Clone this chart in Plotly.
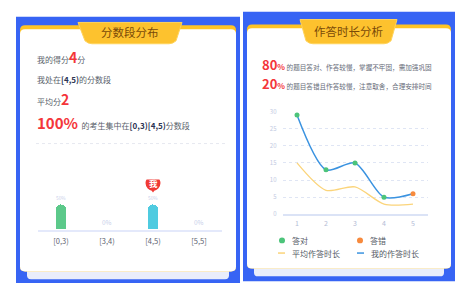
import plotly.graph_objects as go

# ---------------- data ----------------
score_bins = ["[0,3)", "[3,4)", "[4,5)", "[5,5]"]
bin_pct = [50, 0, 50, 0]
bin_colors = ["#5cc98a", "#5cc98a", "#4fcbe0", "#4fcbe0"]
my_score = 4
my_bin = "[4,5)"
avg_score = 2
conc_pct = 100
conc_bins = "[0,3)[4,5)"

questions = [1, 2, 3, 4, 5]
my_time = [29, 13, 15, 5, 6]
avg_time = [15, 7, 8, 3, 3]
correct = [True, True, True, True, False]
y_ticks = [0, 5, 10, 15, 20, 25, 30]
right_pct = 80
wrong_slow_pct = 20

W, H = 470, 290
FONT = "Noto Sans CJK SC"
RED = "#f4363a"
GREEN = "#4cc47a"
ORANGE = "#f78a3d"
BLUE = "#3b93e0"
YELLOW = "#fbd47a"
BG_BLUE = "#3764f4"


def px(x):
    return x / W


def py(y):
    return 1 - y / H


def rrect(x0, y0, x1, y1, r, top=True, bottom=True):
    """rounded rect path in paper coords from pixel values"""
    rt = r if top else 0
    rb = r if bottom else 0
    pts = []
    pts.append(f"M {px(x0+rt)},{py(y0)}")
    pts.append(f"L {px(x1-rt)},{py(y0)}")
    pts.append(f"Q {px(x1)},{py(y0)} {px(x1)},{py(y0+rt)}")
    pts.append(f"L {px(x1)},{py(y1-rb)}")
    pts.append(f"Q {px(x1)},{py(y1)} {px(x1-rb)},{py(y1)}")
    pts.append(f"L {px(x0+rb)},{py(y1)}")
    pts.append(f"Q {px(x0)},{py(y1)} {px(x0)},{py(y1-rb)}")
    pts.append(f"L {px(x0)},{py(y0+rt)}")
    pts.append(f"Q {px(x0)},{py(y0)} {px(x0+rt)},{py(y0)}")
    pts.append("Z")
    return " ".join(pts)


def ribbon(xl, xr, xbl, xbr, yt, yb):
    return (f"M {px(xl)},{py(yt)} L {px(xr)},{py(yt)} "
            f"L {px(xbr+3)},{py(yb-3)} Q {px(xbr)},{py(yb)} {px(xbr-4)},{py(yb)} "
            f"L {px(xbl+4)},{py(yb)} Q {px(xbl)},{py(yb)} {px(xbl-3)},{py(yb-3)} Z")


shapes = []
annotations = []

# ---------- panel backgrounds ----------
for (bx0, by0, bx1, by1, cx0, cy0, cx1, cy1, sy1) in [
    (16, 12, 240, 287, 20, 21, 236, 275, 283),
    (243, 7, 455, 285, 247, 20, 451, 272, 280),
]:
    shapes.append(dict(type="rect", xref="paper", yref="paper", x0=px(bx0), x1=px(bx1),
                       y0=py(by1), y1=py(by0), fillcolor=BG_BLUE, line_width=0, layer="below"))
    shapes.append(dict(type="path", xref="paper", yref="paper",
                       path=rrect(cx0 + 7, cy0 + 20, cx1 - 7, sy1, 4),
                       fillcolor="#e9edfb", line_width=0, layer="below"))
    shapes.append(dict(type="path", xref="paper", yref="paper",
                       path=rrect(cx0, cy0, cx1, cy1, 5),
                       fillcolor="#ffc425", line_width=0, layer="below"))
    shapes.append(dict(type="path", xref="paper", yref="paper",
                       path=rrect(cx0, cy0 + 4, cx1, cy1, 5),
                       fillcolor="white", line_width=0, layer="below"))

# ribbons
shapes.append(dict(type="path", xref="paper", yref="paper",
                   path=ribbon(78, 182, 88, 173, 18, 40), fillcolor="#fdc22e",
                   line=dict(color="#ffd35a", width=1), layer="below"))
shapes.append(dict(type="path", xref="paper", yref="paper",
                   path=ribbon(300, 397, 309, 388, 15, 40), fillcolor="#fdc22e",
                   line=dict(color="#ffd35a", width=1), layer="below"))
annotations.append(dict(xref="paper", yref="paper", x=px(130), y=py(27.5), text="分数段分布",
                        xanchor="center", yanchor="middle",
                        showarrow=False, font=dict(family=FONT, size=11.5, color="#7a4a08")))
annotations.append(dict(xref="paper", yref="paper", x=px(348), y=py(26.5), text="作答时长分析",
                        xanchor="center", yanchor="middle",
                        showarrow=False, font=dict(family=FONT, size=11.5, color="#7a4a08")))

# ---------- left panel text ----------
def red(v, size):
    return f"<span style='color:{RED};font-size:{size}px'><b>{v}</b></span>"


def navy(v):
    return f"<span style='color:#2c3453'><b>{v}</b></span>"


left_lines = [
    (54, f"我的得分{red(my_score, 14)}分"),
    (77, f"我处在{navy(my_bin)}的分数段"),
    (97, f"平均分{red(avg_score, 14)}"),
    (121, f"{red(str(conc_pct) + '%', 15)}  的考生集中在{navy(conc_bins)}分数段"),
]
for yy, t in left_lines:
    annotations.append(dict(xref="paper", yref="paper", x=px(35), y=py(yy), xanchor="left",
                            yanchor="middle", text=t, showarrow=False,
                            font=dict(family=FONT, size=8, color="#5a5f6b")))
shapes.append(dict(type="line", xref="paper", yref="paper", x0=px(36), x1=px(225),
                   y0=py(143), y1=py(143), line=dict(color="#e6e8f0", width=1, dash="dot")))

# ---------- right panel text ----------
right_lines = [
    (61.5, f"<span style='color:{RED};font-size:13px'><b>{right_pct}</b></span>"
           f"<span style='color:{RED};font-size:8px'><b>%</b></span> 的题目答对、作答较慢，掌握不牢固，需加强巩固"),
    (80.5, f"<span style='color:{RED};font-size:13px'><b>{wrong_slow_pct}</b></span>"
           f"<span style='color:{RED};font-size:8px'><b>%</b></span> 的题目答错且作答较慢，注意取舍，合理安排时间"),
]
for yy, t in right_lines:
    annotations.append(dict(xref="paper", yref="paper", x=px(260), y=py(yy), xanchor="left",
                            yanchor="middle", text=t, showarrow=False,
                            font=dict(family=FONT, size=6.6, color="#666b78")))

# ---------- traces ----------
fig = go.Figure()

fig.add_trace(go.Bar(
    x=score_bins, y=bin_pct, marker=dict(color=bin_colors, line_width=0),
    width=0.22, text=[f"{v}%" for v in bin_pct], textposition="outside",
    textfont=dict(family=FONT, size=7, color="#c9d0ea"), cliponaxis=False,
    xaxis="x", yaxis="y", showlegend=False, hoverinfo="skip"))

fig.add_trace(go.Scatter(
    x=questions, y=avg_time, mode="lines", line=dict(color=YELLOW, width=1.3, shape="spline",
                                                      smoothing=0.8),
    xaxis="x2", yaxis="y2", showlegend=False, hoverinfo="skip", cliponaxis=False))
fig.add_trace(go.Scatter(
    x=questions, y=my_time, mode="lines+markers",
    line=dict(color=BLUE, width=1.5, shape="spline", smoothing=0.8),
    marker=dict(size=5, color=[GREEN if c else ORANGE for c in correct]),
    xaxis="x2", yaxis="y2", showlegend=False, hoverinfo="skip", cliponaxis=False))

# "我" badge over my bin
my_val = bin_pct[score_bins.index(my_bin)]
shapes.append(dict(type="circle", xref="x", yref="y", xsizemode="pixel", ysizemode="pixel",
                   xanchor=my_bin, yanchor=my_val, x0=-7.5, x1=7.5, y0=14, y1=29,
                   fillcolor="#f03a35", line_width=0))
shapes.append(dict(type="path", xref="x", yref="y", xsizemode="pixel", ysizemode="pixel",
                   xanchor=my_bin, yanchor=my_val, path="M -3,16 L 3,16 L 0,12 Z",
                   fillcolor="#f03a35", line_width=0))
annotations.append(dict(xref="x", yref="y", x=my_bin, y=my_val, yshift=21.5, text="<b>我</b>",
                        xanchor="center", yanchor="middle",
                        showarrow=False, font=dict(family=FONT, size=8.5, color="white")))

# legend for right chart (drawn manually)
leg = [
    (282, 243, "dot", GREEN, "答对"),
    (360, 243, "dot", ORANGE, "答错"),
    (282, 256, "line", YELLOW, "平均作答时长"),
    (361, 256, "line", BLUE, "我的作答时长"),
]
for lx, ly, kind, col, label in leg:
    if kind == "dot":
        shapes.append(dict(type="circle", xref="paper", yref="paper", x0=px(lx - 3), x1=px(lx + 3),
                           y0=py(ly + 3), y1=py(ly - 3), fillcolor=col, line_width=0))
    else:
        shapes.append(dict(type="line", xref="paper", yref="paper", x0=px(lx - 4), x1=px(lx + 3),
                           y0=py(ly), y1=py(ly), line=dict(color=col, width=1.5)))
    annotations.append(dict(xref="paper", yref="paper", x=px(lx + 8), y=py(ly), xanchor="left",
                            yanchor="middle", text=label, showarrow=False,
                            font=dict(family=FONT, size=8, color="#555a66")))

fig.update_layout(
    width=W, height=H, autosize=False, margin=dict(l=0, r=0, t=0, b=0),
    paper_bgcolor="white", plot_bgcolor="rgba(0,0,0,0)",
    shapes=shapes, annotations=annotations, bargap=0, barcornerradius=5,
    xaxis=dict(domain=[px(38), px(222)], type="category", range=[-0.5, 3.5],
               showgrid=False, zeroline=False, showline=True, linecolor="#e4e9fb", linewidth=2,
               ticks="", tickfont=dict(family=FONT, size=7.5, color="#5d6270"),
               ticklabelstandoff=3, fixedrange=True),
    yaxis=dict(domain=[py(232), py(180)], range=[0, 100], visible=False, fixedrange=True),
    xaxis2=dict(domain=[px(282.5), px(427.5)], range=[0.5, 5.5], anchor="y2",
                tickvals=questions, showgrid=False, zeroline=False, showline=True,
                linecolor="#dbe3f6", linewidth=1.5, ticks="",
                tickfont=dict(family=FONT, size=7, color="#b4bcd6"), ticklabelstandoff=2),
    yaxis2=dict(domain=[py(216), py(110)], range=[0, 30], anchor="x2", tickvals=y_ticks,
                ticksuffix="秒", showgrid=True, gridcolor="#dfe5f4", griddash="dot", gridwidth=1,
                zeroline=False, showline=False, ticks="",
                tickfont=dict(family=FONT, size=6, color="#c3cae2"), ticklabelstandoff=5),
)

fig.write_html("out.html")
